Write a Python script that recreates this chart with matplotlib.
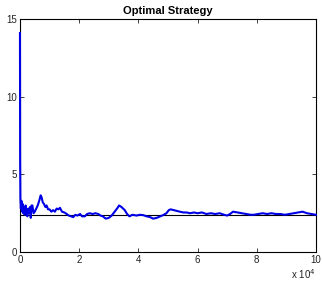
import matplotlib
matplotlib.use("Agg")
import matplotlib.pyplot as plt

plt.rcParams['font.family'] = ['Liberation Sans', 'DejaVu Sans']

# data (x in raw iterations)
iters = [0, 60, 150, 300, 500, 700, 900, 1100, 1300, 1600, 1900, 2200, 2500,
         2800, 3100, 3400, 3650, 3900, 4200, 4600, 5000, 5500, 6000, 6500,
         7000, 7350, 7700, 8100, 8600, 9000, 9500, 10000, 10600, 11200,
         11800, 12400, 13000, 13500, 14200, 15000, 15800, 16500, 17300,
         18000, 18700, 19400, 20300, 21000, 21900, 22700, 23600, 24500,
         25500, 26500, 27200, 28000, 29000, 30000, 31000, 32000, 33000,
         33500, 34300, 35400, 36200, 37000, 38000, 39400, 40500, 41600,
         42800, 44000, 45000, 46200, 47400, 48400, 49500, 50300, 50900,
         52000, 53000, 54000, 55200, 56300, 57500, 58800, 60000, 61500,
         63000, 64500, 66000, 67500, 69000, 70000, 71000, 72000, 73500,
         75000, 76500, 78000, 79000, 80500, 82000, 83500, 85000, 86500,
         88000, 89500, 91000, 92500, 94000, 95500, 97000, 98500, 100000]
values = [14.1, 6.0, 3.4, 2.8, 3.3, 2.6, 3.1, 2.5, 2.9, 2.4, 3.0, 2.6, 2.3,
          2.8, 2.5, 2.9, 2.2, 3.0, 3.0, 2.5, 2.6, 2.8, 3.0, 3.3,
          3.65, 3.5, 3.2, 3.1, 2.9, 3.0, 2.75, 2.75, 2.6, 2.7,
          2.6, 2.8, 2.75, 2.85, 2.6, 2.55, 2.45, 2.35, 2.3,
          2.25, 2.4, 2.35, 2.45, 2.3, 2.3, 2.45, 2.5, 2.45,
          2.5, 2.45, 2.35, 2.3, 2.15, 2.2, 2.35, 2.6, 2.85,
          3.0, 2.9, 2.7, 2.45, 2.3, 2.4, 2.35, 2.4, 2.38,
          2.3, 2.25, 2.15, 2.2, 2.3, 2.38, 2.5, 2.7, 2.75,
          2.7, 2.65, 2.6, 2.55, 2.55, 2.5, 2.55, 2.5, 2.55,
          2.45, 2.5, 2.45, 2.5, 2.4, 2.35, 2.45, 2.6, 2.55,
          2.5, 2.45, 2.4, 2.4, 2.45, 2.5, 2.45, 2.5, 2.45,
          2.45, 2.4, 2.45, 2.5, 2.55, 2.6, 2.5, 2.45, 2.4]
optimum = 2.4

xticks = [0, 20000, 40000, 60000, 80000, 100000]
xlabels = ['0', '2', '4', '6', '8', '10']
yticks = [0, 5, 10, 15]

fig = plt.figure(figsize=(3.22, 2.81), dpi=100)
ax = fig.add_axes([0.062, 0.103, 0.919, 0.829])

ax.plot([iters[0], iters[-1]], [optimum, optimum], color='k', lw=0.8)
ax.plot(iters, values, color='#0000e6', lw=1.5, zorder=3, clip_on=False)

ax.set_xlim(0, 100000)
ax.set_ylim(0, 15)
ax.set_xticks(xticks)
ax.set_xticklabels(xlabels)
ax.set_yticks(yticks)
ax.tick_params(direction='in', top=True, right=True, labelsize=7,
               length=3, width=0.6, colors='#222222', pad=2)
for sp in ax.spines.values():
    sp.set_linewidth(0.8)
ax.set_title('Optimal Strategy', fontsize=8, fontweight='bold', pad=4)
ax.text(1.0, -0.095, r'x 10$^{4}$', transform=ax.transAxes, ha='right',
        va='center', fontsize=7, color='#222222')

fig.savefig('out.png', dpi=100)
